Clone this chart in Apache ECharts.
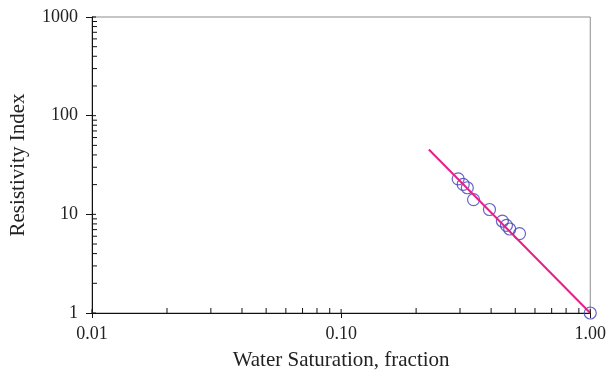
<!DOCTYPE html>
<html>
<head>
<meta charset="utf-8">
<script src="https://cdn.jsdelivr.net/npm/echarts@6/dist/echarts.min.js"></script>
<style>
  html, body {margin: 0; padding: 0; background: #fff;}
  #chart {width: 609px; height: 376px;}
</style>
</head>
<body>
<div id="chart"></div>
<script>
// measured points (Sw, RI)
const swData = [0.295, 0.309, 0.321, 0.340, 0.394, 0.444, 0.461, 0.475, 0.520, 1.0];
const riData = [22.9, 20.1, 18.6, 14.1, 11.2, 8.55, 7.74, 7.1, 6.38, 1.0];
// fitted line end points
const fitSw = [0.225, 1.0];
const fitRi = [45.4, 1.0];
// axis decades and minor tick multipliers
const xDecades = [0.01, 0.1];
const yDecades = [1, 10, 100];
const minorSteps = [2, 3, 4, 5, 6, 7, 8, 9];
const xMajors = [0.01, 0.1, 1];
const yMajors = [1, 10, 100, 1000];

const font = 'Liberation Serif';
const chart = echarts.init(document.getElementById('chart'));

// inward tick marks: minor ticks + inner half of the major ticks
const tickData = [];
xDecades.forEach(d => minorSteps.forEach(m => tickData.push([d * m, 1, 'x', 5])));
yDecades.forEach(d => minorSteps.forEach(m => tickData.push([0.01, d * m, 'y', 5])));
xMajors.forEach(v => tickData.push([v, 1, 'x', 4]));
yMajors.forEach(v => tickData.push([0.01, v, 'y', 4]));

chart.setOption({
  animation: false,
  grid: {
    left: 89, top: 17, right: 14, bottom: 62,
    show: true, borderColor: '#8c8c8c', borderWidth: 1
  },
  xAxis: {
    type: 'log',
    min: 0.01, max: 1,
    splitNumber: 2,
    name: 'Water Saturation, fraction',
    nameLocation: 'middle',
    nameGap: 37,
    nameTextStyle: {fontFamily: font, fontSize: 21, color: '#222'},
    axisLine: {lineStyle: {color: '#111', width: 1}},
    axisTick: {show: true, inside: false, length: 5, lineStyle: {color: '#111'}},
    axisLabel: {
      fontFamily: font, fontSize: 18, color: '#222', margin: 12,
      formatter(val) { return Number(val).toFixed(2); }
    },
    splitLine: {show: false}
  },
  yAxis: {
    type: 'log',
    min: 1, max: 1000,
    splitNumber: 3,
    name: 'Resistivity Index',
    nameLocation: 'middle',
    nameRotate: 90,
    nameGap: 63,
    nameTextStyle: {fontFamily: font, fontSize: 21, color: '#222'},
    axisLine: {lineStyle: {color: '#111', width: 1}},
    axisTick: {show: true, inside: false, length: 6, lineStyle: {color: '#111'}},
    axisLabel: {
      fontFamily: font, fontSize: 18, color: '#222', margin: 14,
      formatter(val) { return String(Math.round(val)); }
    },
    splitLine: {show: false}
  },
  series: [
    {
      type: 'custom',
      silent: true,
      clip: false,
      z: 5,
      data: tickData,
      renderItem(params, api) {
        const p = api.coord([api.value(0), api.value(1)]);
        const dir = tickData[params.dataIndex][2];
        const len = tickData[params.dataIndex][3];
        const shape = dir === 'x'
          ? {x1: p[0], y1: p[1], x2: p[0], y2: p[1] - len}
          : {x1: p[0], y1: p[1], x2: p[0] + len, y2: p[1]};
        return {type: 'line', shape, style: {stroke: '#111', lineWidth: 1}};
      }
    },
    {
      type: 'scatter',
      clip: false,
      symbol: 'circle',
      symbolSize: 12,
      data: swData.map((s, i) => [s, riData[i]]),
      itemStyle: {color: 'rgba(0,0,0,0)', borderColor: '#4040b8', borderWidth: 1.2},
      z: 3
    },
    {
      type: 'line',
      data: fitSw.map((s, i) => [s, fitRi[i]]),
      symbol: 'none',
      lineStyle: {color: '#e6208a', width: 2},
      z: 4
    }
  ]
});
</script>
</body>
</html>
